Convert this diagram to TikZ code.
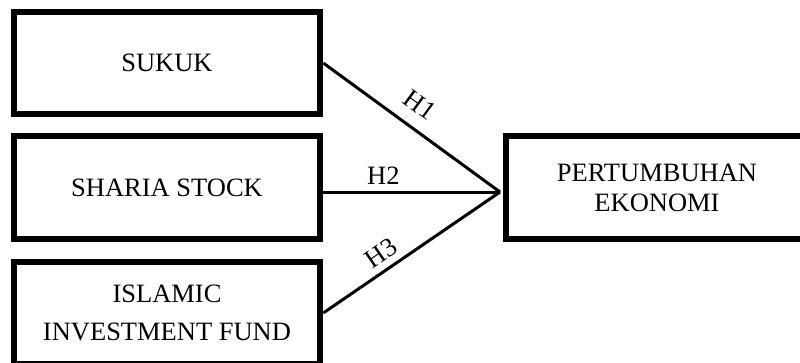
\documentclass[tikz,border=0pt]{standalone}
\usepackage{fontspec}
\setmainfont{Liberation Serif}
\begin{document}
\begin{tikzpicture}[x=1pt,y=-1pt]
\tikzset{kotak/.style={draw, line width=6.5pt, minimum width=306pt, minimum height=102pt, align=center, font=\fontsize{26.5}{30}\selectfont},
garis/.style={line width=3pt},
hlabel/.style={font=\fontsize{26.5}{30}\selectfont, sloped, above=4pt, inner sep=2pt}}
\useasboundingbox (0,0) rectangle (800,362);
\clip (0,0) rectangle (800,362);
\node[kotak] (sukuk) at (167,63) {SUKUK};
\node[kotak, minimum height=103pt] (saham) at (167,187.5) {SHARIA STOCK};
\node[kotak] (reksa) at (167,313) {ISLAMIC\\[7.5pt] INVESTMENT FUND};
\node[kotak, minimum width=302pt, minimum height=103pt] (ekonomi) at (657,187.5) {PERTUMBUHAN\\ EKONOMI};
\coordinate (hub) at (500,192);
\draw[garis] (sukuk.east) -- node[hlabel, pos=0.47, above=7pt] {H1} (hub);
\draw[garis] (saham.east |- hub) -- node[hlabel, pos=0.34] {H2} (hub);
\draw[garis] (reksa.east) -- node[hlabel, pos=0.38] {H3} (hub);
\end{tikzpicture}
\end{document}
